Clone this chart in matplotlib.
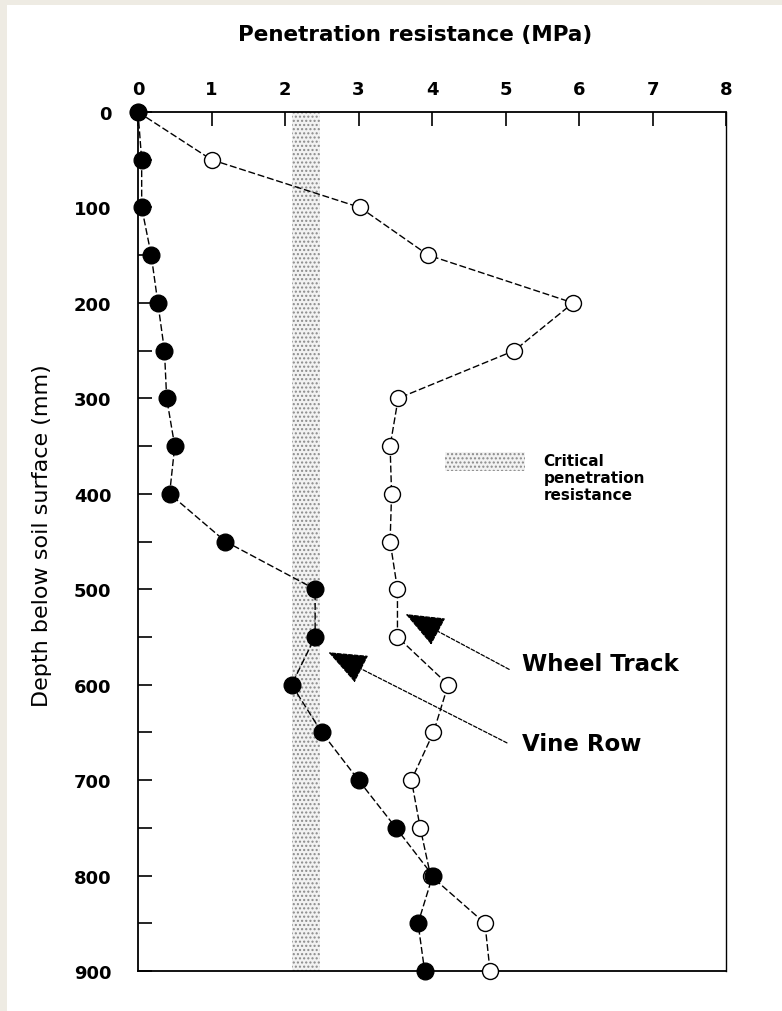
import matplotlib
matplotlib.use("Agg")
import matplotlib.pyplot as plt
from matplotlib.patches import Rectangle
import numpy as np

# ---- data ----
depth = [0, 50, 100, 150, 200, 250, 300, 350, 400, 450, 500, 550, 600, 650, 700, 750, 800, 850, 900]
vine_row = [0.0, 0.05, 0.05, 0.18, 0.27, 0.36, 0.39, 0.50, 0.43, 1.19, 2.41, 2.41, 2.09, 2.50, 3.00, 3.51, 4.01, 3.81, 3.90]
wheel_track = [0.0, 1.00, 3.02, 3.95, 5.92, 5.12, 3.54, 3.43, 3.45, 3.43, 3.53, 3.53, 4.22, 4.02, 3.72, 3.84, 3.98, 4.72, 4.79]
critical_low, critical_high = 2.1, 2.48
x_ticks = [0, 1, 2, 3, 4, 5, 6, 7, 8]
y_ticks = [0, 100, 200, 300, 400, 500, 600, 700, 800, 900]
title = "Penetration resistance (MPa)"
ylabel = "Depth below soil surface (mm)"
legend_text = "Critical\npenetration\nresistance"

plt.rcParams['font.family'] = ['DejaVu Sans']

W, H = 782, 1012
fig = plt.figure(figsize=(W / 100, H / 100), dpi=100)
fig.patch.set_facecolor('#eeebe3')
fig.patches.append(Rectangle((7 / W, 0), 1, 1 - 6 / H, transform=fig.transFigure,
                             facecolor='white', edgecolor='none', zorder=-10))

left, right, top, bottom = 138, 726, 113, 972
ax = fig.add_axes([left / W, 1 - bottom / H, (right - left) / W, (bottom - top) / H])
ax.set_facecolor('none')
ax.set_xlim(0, 8)
ax.set_ylim(900, 0)

# critical band
ax.axvspan(critical_low, critical_high, facecolor='#f2f2f2', edgecolor='#8a8a8a',
           hatch='....', linewidth=0, zorder=1)

dash = (0, (5, 2))
ax.plot(wheel_track, depth, linestyle=dash, color='black', linewidth=1.0,
        marker='o', markersize=11.5, markerfacecolor='white', markeredgecolor='black',
        markeredgewidth=1.0, zorder=3, clip_on=False)
ax.plot(vine_row, depth, linestyle=dash, color='black', linewidth=1.0,
        marker='o', markersize=12, markerfacecolor='black', markeredgecolor='black',
        zorder=4, clip_on=False)

# legend patch for critical penetration resistance
ax.add_patch(Rectangle((4.18, 356), 1.09, 20, facecolor='#f2f2f2', edgecolor='#8a8a8a',
                       hatch='....', linewidth=0, zorder=2))
ax.text(5.52, 383, legend_text, fontsize=11, fontweight='bold', ha='left', va='center',
        linespacing=1.2)

# annotations
arrow_kw = dict(arrowstyle='-|>,head_length=1.25,head_width=0.5', color='black',
                linewidth=0.9, linestyle=(0, (3, 1.5)), mutation_scale=20,
                shrinkA=0, shrinkB=0)
ax.annotate('', xy=(3.64, 526), xytext=(5.05, 584), arrowprops=arrow_kw, zorder=5)
ax.text(5.22, 578, 'Wheel Track', fontsize=16.5, fontweight='bold', ha='left', va='center')
ax.annotate('', xy=(2.59, 566), xytext=(5.02, 661), arrowprops=arrow_kw, zorder=5)
ax.text(5.22, 662, 'Vine Row', fontsize=16.5, fontweight='bold', ha='left', va='center')

# axes styling
ax.xaxis.tick_top()
ax.set_xticks(x_ticks)
ax.set_xticklabels([str(t) for t in x_ticks], fontsize=13, fontweight='bold')
ax.set_yticks(y_ticks)
ax.set_yticklabels([str(t) for t in y_ticks], fontsize=13, fontweight='bold')
ax.set_yticks(np.arange(50, 900, 100), minor=True)
ax.tick_params(axis='x', which='major', direction='in', length=10, width=1.2, pad=10,
               top=True, bottom=False)
ax.tick_params(axis='y', which='both', direction='in', length=10, width=1.2, pad=19,
               left=True, right=False)
for s in ax.spines.values():
    s.set_linewidth(1.3)
    s.set_color('black')
ax.spines['right'].set_linewidth(1.0)

fig.text(415 / W, 1 - 35 / H, title, fontsize=15.5, fontweight='bold', ha='center', va='center')
fig.text(42 / W, 1 - 536 / H, ylabel, fontsize=16, rotation=90, ha='center', va='center')

fig.savefig('out.png', dpi=100, facecolor=fig.get_facecolor())
